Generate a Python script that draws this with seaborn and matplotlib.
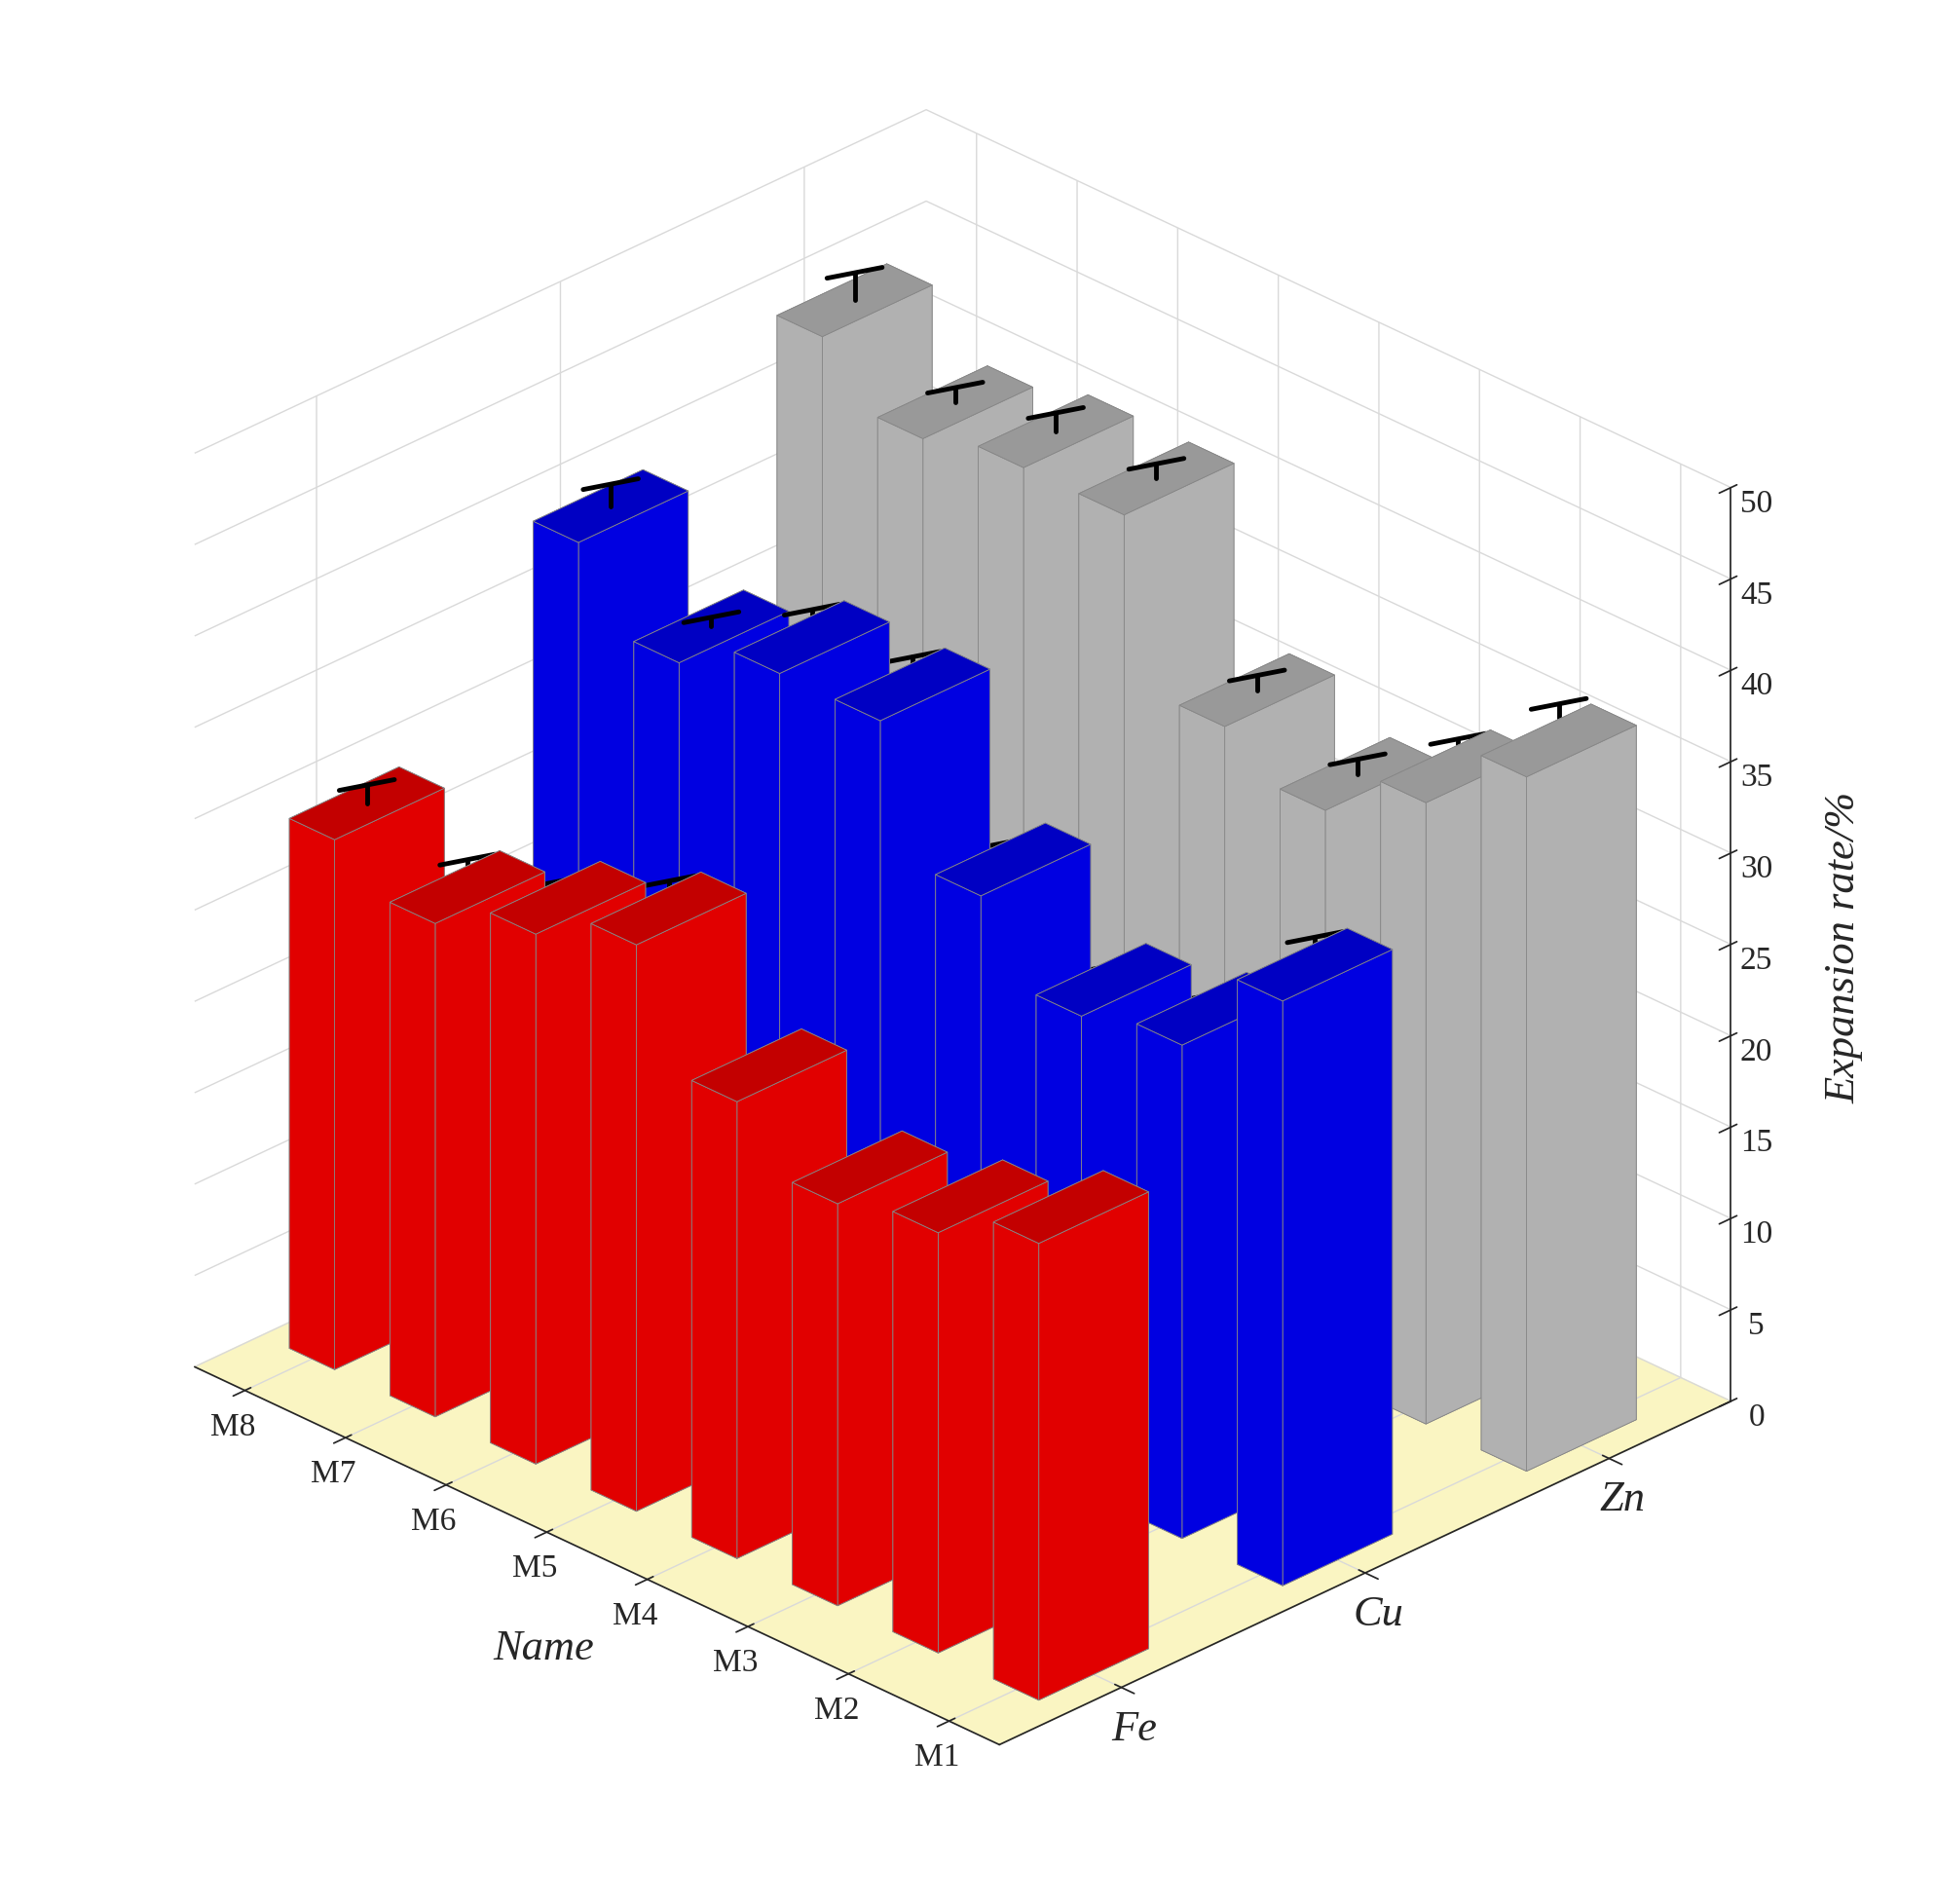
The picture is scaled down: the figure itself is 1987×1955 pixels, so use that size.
import numpy as np
import matplotlib
matplotlib.use("Agg")
import matplotlib.pyplot as plt
import seaborn as sns

sns.set_theme(style="white")
plt.rcParams['font.family'] = ['Liberation Serif', 'DejaVu Serif']

names = ["M1", "M2", "M3", "M4", "M5", "M6", "M7", "M8"]
metals = ["Fe", "Cu", "Zn"]
fe = [25, 23, 22, 25, 31, 29, 27, 29]
cu = [32, 27, 26, 30, 37, 37, 35, 39]
zn = [38, 34, 31, 33, 42, 42, 41, 44]
fe_err = [1.5, 2.0, 1.5, 1.2, 1.5, 1.0, 1.5, 1.0]
cu_err = [1.5, 0.8, 0.8, 1.0, 1.5, 1.5, 0.5, 1.2]
zn_err = [2.0, 1.5, 0.8, 0.8, 0.8, 1.0, 0.8, 1.5]
colors = ["#ff0000", "#0000ff", "#c8c8c8"]

fig = plt.figure(figsize=(19.87, 19.56), dpi=100)
ax = fig.add_subplot(111, projection='3d', proj_type='ortho')
w = 0.45
series = [(fe, fe_err), (cu, cu_err), (zn, zn_err)]
for i, (vals, errs) in enumerate(series):
    for j, v in enumerate(vals):
        x, y = i * 1.0, j * 1.0
        ax.bar3d(x - w / 2, y - w / 2, 0, w, w, v, color=colors[i],
                 edgecolor="#888888", linewidth=0.6, shade=True)
        e = errs[j]
        ax.plot([x, x], [y, y], [v, v + e], color="black", lw=3.5, zorder=10)
        ax.plot([x - 0.08, x + 0.08], [y + 0.08, y - 0.08], [v + e, v + e],
                color="black", lw=3.5, zorder=10)

ax.set_xlim(-0.5, 2.5)
ax.set_ylim(-0.5, 7.5)
ax.set_zlim(0, 50)
ax.set_xticks(range(3))
ax.set_xticklabels(metals, fontsize=32, fontstyle='italic')
ax.set_yticks(range(8))
ax.set_yticklabels(names, fontsize=24)
ax.set_zticks(range(0, 51, 5))
ax.set_zticklabels([str(t) for t in range(0, 51, 5)], fontsize=24)
ax.set_ylabel("Name", fontsize=32, fontstyle='italic', labelpad=30)
ax.set_zlabel("Expansion rate/%", fontsize=32, fontstyle='italic', labelpad=30)
ax.zaxis._axinfo['juggled'] = (1, 2, 0)
ax.xaxis.set_pane_color((1, 1, 1, 0))
ax.yaxis.set_pane_color((1, 1, 1, 0))
ax.zaxis.set_pane_color((0.98, 0.96, 0.76, 1.0))
for a in (ax.xaxis, ax.yaxis, ax.zaxis):
    a._axinfo["grid"]["color"] = (0.85, 0.85, 0.85, 1)
ax.view_init(elev=28, azim=-135)
ax.set_box_aspect((1, 1.1, 1.0))
plt.subplots_adjust(left=0.02, right=0.95, bottom=0.02, top=0.98)
fig.savefig("out.png", dpi=100)
